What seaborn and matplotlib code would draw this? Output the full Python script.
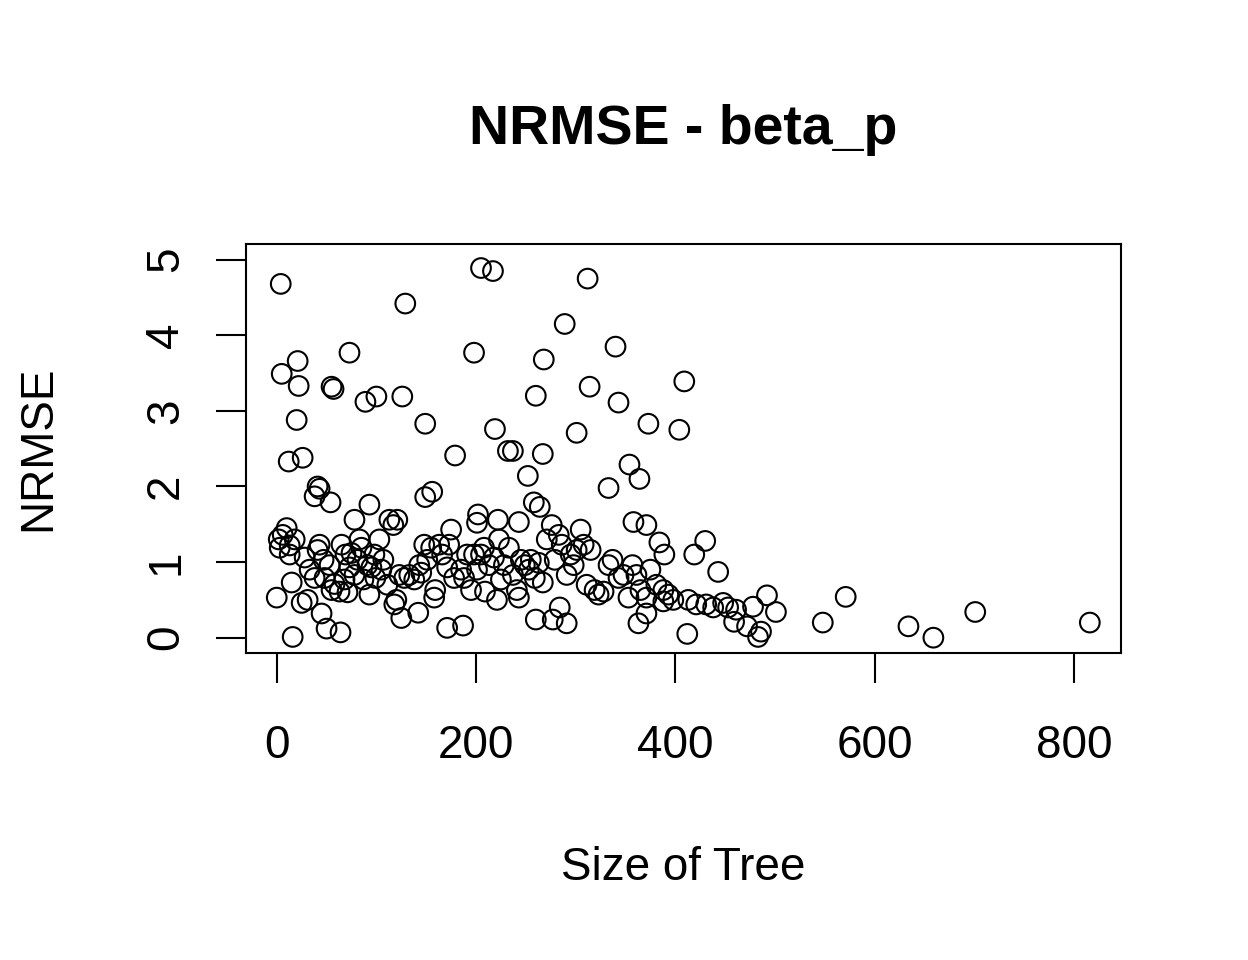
import matplotlib
matplotlib.use("Agg")
import matplotlib.pyplot as plt
import seaborn as sns
import pandas as pd

tree_size = [4,5,21,22,20,12,26,73,55,57,89,100,126,129,149,179,41,43,38,54,93,78,149,156,
             198,205,217,312,289,340,268,314,260,343,409,404,373,301,219,232,237,267,252,354,364,333,
             258,264,202,201,222,243,358,371,384,430,389,419,443,492,501,548,571,634,659,701,816,
             16,50,64,45,171,187,125,142,260,291,284,277,363,371,412,483,486,472,459,478,0,
             3,6,10,13,2,18,13,15,25,31,28,33,38,41,43,47,48,53,55,58,63,65,68,71,73,75,78,81,85,87,
             93,95,98,103,107,111,113,117,121,120,118,128,133,138,145,151,155,159,158,163,166,171,175,
             178,185,191,195,201,205,209,213,218,221,225,228,233,237,241,243,245,249,253,255,259,263,
             267,271,276,279,283,286,291,295,298,301,305,308,311,315,319,323,328,333,337,343,348,353,
             357,361,365,371,375,381,388,393,398,388,413,421,431,438,448,453,461,
             69,83,91,99,105,123,143,148,173,188,198,208,223]
nrmse = [4.68,3.49,3.66,3.33,2.88,2.33,2.38,3.77,3.32,3.29,3.12,3.19,3.19,4.42,2.83,2.41,2.0,1.97,1.87,1.79,1.76,1.56,1.86,1.93,
         3.77,4.89,4.85,4.75,4.15,3.85,3.68,3.32,3.2,3.11,3.39,2.75,2.83,2.71,2.76,2.47,2.47,2.43,2.14,2.29,2.1,1.98,
         1.79,1.73,1.63,1.52,1.56,1.53,1.53,1.49,1.26,1.28,1.1,1.1,0.87,0.56,0.34,0.2,0.54,0.15,0.0,0.34,0.2,
         0.01,0.12,0.07,0.32,0.13,0.16,0.26,0.33,0.24,0.19,0.4,0.24,0.19,0.32,0.05,0.01,0.08,0.15,0.21,0.41,0.53,
         1.19,1.36,1.45,1.22,1.3,1.3,1.1,0.73,0.46,0.5,1.06,0.9,0.79,1.16,1.23,1.03,0.79,0.96,0.63,0.71,0.61,1.23,0.77,0.6,0.93,
         1.12,0.83,1.03,1.19,0.77,0.57,0.93,1.1,1.3,1.03,0.7,1.56,1.49,1.56,0.5,0.44,0.79,0.83,0.77,0.86,1.03,1.19,0.63,0.53,
         1.23,1.1,0.93,1.43,0.79,0.9,1.1,0.63,0.9,1.1,0.61,0.96,1.06,0.5,0.77,0.96,1.19,0.83,0.63,0.53,1.03,0.96,0.9,1.03,
         0.79,0.99,0.73,1.3,1.49,1.03,1.36,1.23,0.83,1.1,0.96,1.16,1.43,1.23,0.7,1.16,0.63,0.57,0.61,0.96,1.03,0.79,0.83,
         0.53,0.96,0.83,0.63,0.53,0.9,0.7,0.63,0.57,0.5,0.48,0.5,0.44,0.44,0.4,0.46,0.4,0.37,
         1.1,1.3,0.96,0.79,0.9,0.83,0.96,1.23,1.23,0.79,1.1,1.19,1.3]
df = pd.DataFrame({"size": tree_size, "nrmse": nrmse})

sns.set_style("white")
plt.rcParams["font.family"] = ["Liberation Sans", "DejaVu Sans"]
plt.rcParams["text.color"] = "black"
plt.rcParams["axes.labelcolor"] = "black"
plt.rcParams["xtick.color"] = "black"
plt.rcParams["ytick.color"] = "black"
fig = plt.figure(figsize=(12.48, 9.6), dpi=100)
ax = fig.add_axes([0.197, 0.320, 0.701, 0.426])
sns.scatterplot(data=df, x="size", y="nrmse", ax=ax, s=200, facecolor="none",
                edgecolor="black", linewidth=1.5, marker="o")
ax.set_xlim(-31, 847)
ax.set_ylim(-0.2, 5.21)
ax.set_xticks([0, 200, 400, 600, 800])
ax.set_yticks([0, 1, 2, 3, 4, 5])
ax.tick_params(axis="both", direction="out", length=21.6, width=1.5, labelsize=33,
               color="black", labelcolor="black", bottom=True, left=True)
ax.tick_params(axis="x", pad=30)
ax.tick_params(axis="y", pad=20)
for lab in ax.get_yticklabels():
    lab.set_rotation(90)
    lab.set_va("center")
for s in ax.spines.values():
    s.set_visible(True)
    s.set_linewidth(1.5)
    s.set_color("black")
ax.set_xlabel("Size of Tree", fontsize=33, labelpad=56)
ax.set_ylabel("NRMSE", fontsize=33, labelpad=60)
ax.set_title("NRMSE - beta_p", fontsize=40, fontweight="bold", pad=72, color="black")
fig.savefig("out.png", dpi=100)
